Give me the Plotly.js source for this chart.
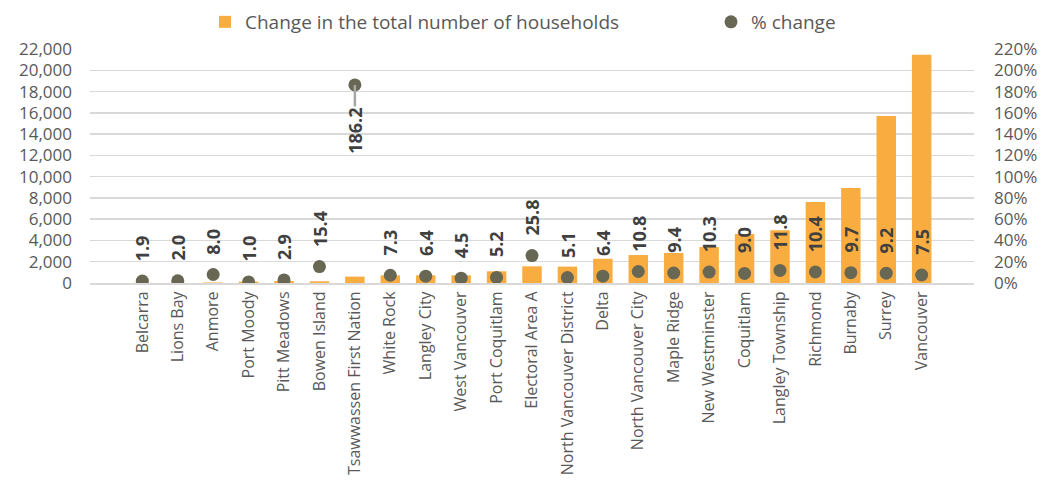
<!DOCTYPE html>
<html>
<head>
<meta charset="utf-8">
<script src="https://cdn.plot.ly/plotly-3.0.1.min.js"></script>
<style>
  html, body { margin: 0; padding: 0; background: #fff; }
  #chart { width: 1049px; height: 481px; }
</style>
</head>
<body>
<div id="chart"></div>
<script>
const municipalities = ["Belcarra", "Lions Bay", "Anmore", "Port Moody", "Pitt Meadows", "Bowen Island",
  "Tsawwassen First Nation", "White Rock", "Langley City", "West Vancouver", "Port Coquitlam",
  "Electoral Area A", "North Vancouver District", "Delta", "North Vancouver City", "Maple Ridge",
  "New Westminster", "Coquitlam", "Langley Township", "Richmond", "Burnaby", "Surrey", "Vancouver"];
const householdChange = [15, 10, 50, 130, 190, 160, 600, 720, 720, 720, 1100, 1570, 1540, 2280,
  2630, 2820, 3380, 4600, 4950, 7610, 8930, 15700, 21450];
const pctChange = [1.9, 2.0, 8.0, 1.0, 2.9, 15.4, 186.2, 7.3, 6.4, 4.5, 5.2, 25.8, 5.1, 6.4,
  10.8, 9.4, 10.3, 9.0, 11.8, 10.4, 9.7, 9.2, 7.5];
const leftTicks = [0, 2000, 4000, 6000, 8000, 10000, 12000, 14000, 16000, 18000, 20000, 22000];
const rightTicks = [0, 20, 40, 60, 80, 100, 120, 140, 160, 180, 200, 220];
const rightTickText = rightTicks.map(t => t + "%");

const FONT = "Open Sans, sans-serif";
const GREY = "#595959";

const traces = [
  {
    type: "bar",
    name: "Change in the total number of households",
    x: municipalities,
    y: householdChange,
    marker: { color: "#F9AD41" },
    yaxis: "y",
    legend: "legend",
    hoverinfo: "skip"
  },
  {
    type: "scatter",
    mode: "markers",
    name: "% change",
    x: municipalities,
    y: pctChange,
    marker: { color: "#686753", size: 13 },
    yaxis: "y2",
    legend: "legend2",
    hoverinfo: "skip"
  }
];

const maxIdx = pctChange.indexOf(Math.max(...pctChange));
const labelFont = { family: FONT, size: 18, color: "#404040" };
const annotations = pctChange.map((v, i) => {
  if (i === maxIdx) {
    return {
      x: municipalities[i], y: v, xref: "x", yref: "y2",
      text: "<b>" + v.toFixed(1) + "</b>",
      textangle: -90,
      showarrow: true, arrowhead: 0, arrowwidth: 2.5, arrowcolor: "#A6A6A6",
      ax: 0, ay: 46, standoff: 0,
      font: labelFont
    };
  }
  return {
    x: municipalities[i], y: v, xref: "x", yref: "y2",
    text: "<b>" + v.toFixed(1) + "</b>",
    textangle: -90,
    showarrow: false,
    yanchor: "bottom", xanchor: "center",
    yshift: 18,
    font: labelFont
  };
});

const legendFont = { family: FONT, size: 19, color: GREY };
const layout = {
  width: 1049, height: 481,
  margin: { l: 90, r: 75, t: 49, b: 198, autoexpand: false },
  paper_bgcolor: "#fff", plot_bgcolor: "#fff",
  font: { family: FONT, color: GREY },
  bargap: 0.45,
  showlegend: true,
  legend: {
    orientation: "h",
    xref: "container", yref: "container",
    x: 205 / 1049, xanchor: "left",
    y: 1 - 22 / 481, yanchor: "middle",
    font: legendFont, itemwidth: 30,
    bgcolor: "rgba(0,0,0,0)"
  },
  legend2: {
    orientation: "h",
    xref: "container", yref: "container",
    x: 711 / 1049, xanchor: "left",
    y: 1 - 22 / 481, yanchor: "middle",
    font: legendFont, itemwidth: 30,
    bgcolor: "rgba(0,0,0,0)"
  },
  xaxis: {
    type: "category",
    tickangle: -90,
    tickfont: { family: FONT, size: 16, color: GREY },
    showgrid: false,
    showline: true, linecolor: "#D9D9D9", linewidth: 2,
    ticks: "", fixedrange: true
  },
  yaxis: {
    range: [0, 22000],
    tickvals: leftTicks,
    tickformat: ",",
    tickfont: { family: FONT, size: 17, color: GREY },
    gridcolor: "#D9D9D9", gridwidth: 1.5,
    zeroline: false,
    ticklabelstandoff: 17,
    fixedrange: true
  },
  yaxis2: {
    overlaying: "y", side: "right",
    range: [0, 220],
    tickvals: rightTicks,
    ticktext: rightTickText,
    tickfont: { family: FONT, size: 17, color: GREY },
    showgrid: false, zeroline: false,
    ticklabelstandoff: 19,
    fixedrange: true
  },
  annotations: annotations,
  hovermode: false
};

Plotly.newPlot("chart", traces, layout, { displayModeBar: false, staticPlot: true });
</script>
</body>
</html>
